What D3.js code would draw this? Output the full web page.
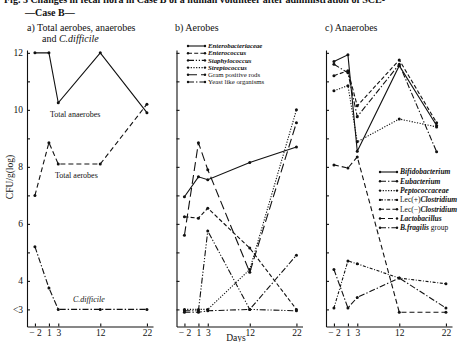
<!DOCTYPE html>
<html>
<head>
<meta charset="utf-8">
<script src="https://cdn.jsdelivr.net/npm/d3@7"></script>
<style>
  body { margin: 0; background: #fff; }
  svg { display: block; }
  text { font-family: "Liberation Serif", "DejaVu Serif", serif; fill: #111; }
</style>
</head>
<body>
<div id="chart"></div>
<script>
// days of sampling
const days = [-2, 1, 3, 12, 22];
const daysLate = [-2, 1, 3, 12, 20];
const dayTicks = [-2, 1, 3, 12, 22];
const yTicks = [3, 4, 5, 6, 7, 8, 9, 10, 11, 12];
const yLabels = {12: '12', 10: '10', 8: '8', 6: '6', 4: '4', 3: '<3'};

// a) totals
const aNames = ['Total anaerobes', 'Total aerobes', 'C.difficile'];
const totalAnaerobes = [12, 12, 10.25, 12, 9.9];
const totalAerobes = [7.0, 8.85, 8.1, 8.1, 10.2];
const cDifficile = [5.2, 3.75, 3.0, 3.0, 3.0];

// b) aerobes
const bNames = ['Enterobacteriaceae', 'Enterococcus', 'Staphylococcus', 'Streptococcus', 'Gram positive rods', 'Yeast like organisms'];
const enterobacteriaceae = [6.95, 7.65, 7.55, 8.15, 8.7];
const enterococcus = [6.25, 6.2, 6.55, 5.15, 3.0];
const staphylococcus = [2.95, 2.95, 5.75, 3.0, 2.95];
const streptococcus = [3.0, 3.0, 3.0, 4.4, 10.0];
const gramPositiveRods = [5.6, 8.85, 7.9, 4.3, 9.55];
const yeastLike = [2.9, 2.9, 2.95, 3.0, 4.9];

// c) anaerobes
const cNames = ['Bifidobacterium', 'Eubacterium', 'Peptococcaceae', 'Lec(+)Clostridium', 'Lec(−)Clostridium', 'Lactobacillus', 'B.fragilis group'];
const bifidobacterium = [11.7, 11.93, 8.55, 11.55, 9.45];
const eubacterium = [11.6, 11.3, 9.76, 11.6, 8.53];
const peptococcaceae = [10.67, 10.85, 8.88, 9.68, 9.4];
const lecPlusClostridium = [3.05, 4.7, 4.6, 4.1, 3.9];
const lecMinusClostridium = [11.2, 11.37, 10.14, 11.75, 9.55];
const lactobacillus = [8.07, 7.96, 8.35, 2.9, 2.9];
const bFragilis = [4.4, 3.05, 3.42, 4.1, 3.05];

const W = 462, H = 342;
const DASH = {
  solid: null,
  dashed: '4,2.2',
  medDash: '5,3',
  dashDot: '6,2,1.4,2',
  fineDashDot: '3,1.6,1,1.6',
  dotted: '1.2,1.5',
  longDash: '9,4',
  dashDotDot: '6,1.8,1.2,1.8,1.2,1.8'
};

const svg = d3.select('#chart').append('svg')
  .attr('width', W).attr('height', H);

const y = d3.scaleLinear().domain([2.4, 12.1]).range([326.5, 50]);

function panel(ax, series, showLabels) {
  const x = d3.scaleLinear().domain([-3.7, 23.3]).range([ax, ax + 126]);
  const g = svg.append('g');

  const yAxis = d3.axisLeft(y).tickValues(yTicks)
    .tickSizeInner(-3).tickSizeOuter(0).tickPadding(4)
    .tickFormat(d => showLabels ? (yLabels[d] || '') : '');
  g.append('g').attr('transform', `translate(${ax},0)`).call(yAxis)
    .call(s => s.selectAll('text').style('font-size', '9.5px'));

  const xAxis = d3.axisBottom(x).tickValues(dayTicks)
    .tickSizeInner(-3).tickSizeOuter(0).tickPadding(3)
    .tickFormat(d => d < 0 ? '− ' + Math.abs(d) : d);
  g.append('g').attr('transform', `translate(0,${y(2.4)})`).call(xAxis)
    .call(s => s.selectAll('text').style('font-size', '9.5px'));

  g.selectAll('.domain, .tick line').attr('stroke', '#111').attr('stroke-width', 1.1);

  const line = d3.line().x(d => x(d[0])).y(d => y(d[1]));
  series.forEach(s => {
    const pts = s.x.map((d, i) => [d, s.v[i]]);
    g.append('path').datum(pts)
      .attr('d', line)
      .attr('fill', 'none')
      .attr('stroke', '#111')
      .attr('stroke-width', 1.1)
      .attr('stroke-dasharray', DASH[s.dash]);
    g.selectAll(null).data(pts).enter().append('circle')
      .attr('cx', d => x(d[0])).attr('cy', d => y(d[1]))
      .attr('r', 1.5).attr('fill', '#111');
  });
  return x;
}

const aSeries = [
  {x: days, v: totalAnaerobes, dash: 'solid'},
  {x: days, v: totalAerobes, dash: 'medDash'},
  {x: days, v: cDifficile, dash: 'dashDot'}
];
const bSeries = [
  {x: days, v: enterobacteriaceae, dash: 'solid'},
  {x: days, v: enterococcus, dash: 'dashed'},
  {x: days, v: staphylococcus, dash: 'dashDotDot'},
  {x: days, v: streptococcus, dash: 'dotted'},
  {x: days, v: gramPositiveRods, dash: 'longDash'},
  {x: days, v: yeastLike, dash: 'dashDot'}
];
const cSeries = [
  {x: daysLate, v: bifidobacterium, dash: 'solid'},
  {x: daysLate, v: eubacterium, dash: 'dashDot'},
  {x: daysLate, v: peptococcaceae, dash: 'dotted'},
  {x: days, v: lecPlusClostridium, dash: 'fineDashDot'},
  {x: daysLate, v: lecMinusClostridium, dash: 'dashed'},
  {x: days, v: lactobacillus, dash: 'medDash'},
  {x: days, v: bFragilis, dash: 'dashDot'}
];

panel(27, aSeries, true);
panel(176.5, bSeries, false);
panel(326, cSeries, false);

// legends
function legend(x0, y0, step, size, names, series, italicPart) {
  names.forEach((n, i) => {
    const yy = y0 + i * step;
    svg.append('line').attr('x1', x0).attr('x2', x0 + 17).attr('y1', yy).attr('y2', yy)
      .attr('stroke', '#111').attr('stroke-width', 1.1)
      .attr('stroke-dasharray', DASH[series[i].dash]);
    [x0, x0 + 17].forEach(cx => svg.append('circle').attr('cx', cx).attr('cy', yy).attr('r', 1.2).attr('fill', '#111'));
    const t = svg.append('text').attr('x', x0 + 20).attr('y', yy + size * 0.33).style('font-size', size + 'px');
    italicPart(n).forEach(p => t.append('tspan').text(p[0]).style('font-style', p[1] ? 'italic' : 'normal')
      .style('font-weight', p[1] ? 'bold' : 'normal'));
  });
}
legend(188, 46, 7.2, 6.8, bNames, bSeries, n => {
  if (n === 'Gram positive rods' || n === 'Yeast like organisms') return [[n, false]];
  return [[n, true]];
});
legend(380, 172, 9.3, 7.5, cNames, cSeries, n => {
  if (n.startsWith('Lec')) return [[n.slice(0, 6), false], [n.slice(6), true]];
  if (n === 'B.fragilis group') return [['B.fragilis', true], [' group', false]];
  return [[n, true]];
});

// titles (top caption is cut by the page edge, as in the scan)
svg.append('text').attr('x', 4).attr('y', 2.5).style('font-size', '10px').style('font-weight', 'bold')
  .text('Fig. 3  Changes in fecal flora in Case B of a human volunteer after administration of SCE-');
svg.append('text').attr('x', 25).attr('y', 16).style('font-size', '10px').style('font-weight', 'bold').text('—Case B—');
svg.append('text').attr('x', 27).attr('y', 31).style('font-size', '10px').text('a) Total aerobes, anaerobes');
svg.append('text').attr('x', 42).attr('y', 42).style('font-size', '10px')
  .call(t => { t.append('tspan').text('and '); t.append('tspan').style('font-style', 'italic').text('C.difficile'); });
svg.append('text').attr('x', 175).attr('y', 31).style('font-size', '10px').text('b) Aerobes');
svg.append('text').attr('x', 325).attr('y', 31).style('font-size', '10px').text('c) Anaerobes');

// inline labels panel a
svg.append('text').attr('x', 50).attr('y', 117).style('font-size', '8px').text(aNames[0]);
svg.append('text').attr('x', 55).attr('y', 178).style('font-size', '8px').text(aNames[1]);
svg.append('text').attr('x', 73).attr('y', 302).style('font-size', '8px').style('font-style', 'italic').text(aNames[2]);

// axis titles
svg.append('text').attr('transform', 'translate(13,177) rotate(-90)').attr('text-anchor', 'middle')
  .style('font-size', '9.5px').text('CFU/g(log)');
svg.append('text').attr('x', 236).attr('y', 341).attr('text-anchor', 'middle').style('font-size', '9.5px').text('Days');
</script>
</body>
</html>
